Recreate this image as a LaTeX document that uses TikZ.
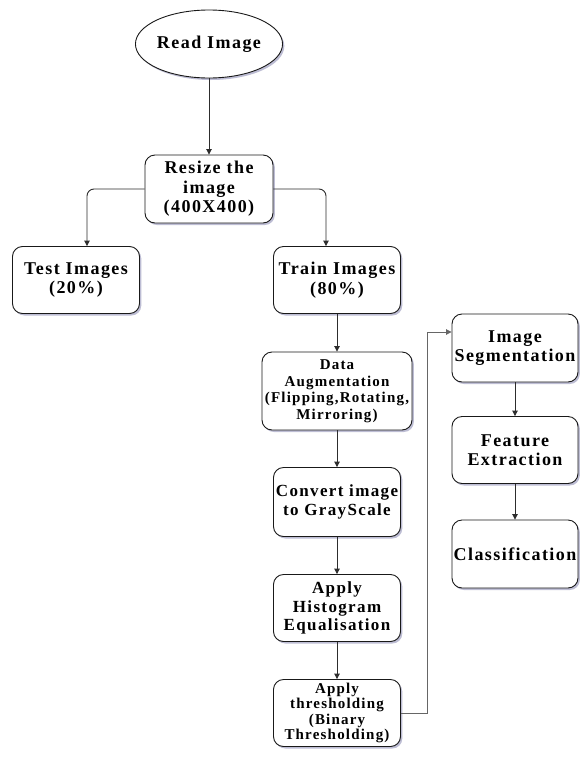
\documentclass[tikz,border=0pt]{standalone}
\usepackage{fontspec}
\setmainfont{Liberation Serif}[LetterSpace=8]
\usetikzlibrary{shapes.geometric,arrows.meta,shadows}
\definecolor{shcol}{RGB}{110,110,160}
\definecolor{linecol}{RGB}{45,45,45}
\tikzset{
  base/.style={draw=black!90, line width=0.9pt, fill=white, align=center, inner sep=0pt,
    font=\bfseries\fontsize{18}{19.5}\selectfont,
    drop shadow={shadow xshift=1.8pt, shadow yshift=-2pt, fill=shcol, opacity=0.45}},
  stepbox/.style={base, rectangle, rounded corners=10pt, minimum width=127pt, minimum height=67pt},
  ovalbox/.style={base, ellipse, minimum width=128pt, minimum height=68pt},
  arr/.style={draw=linecol, line width=0.9pt, -{Triangle[length=5.5pt,width=5.5pt]}},
  smallfont/.style={font=\bfseries\fontsize{15}{16.5}\selectfont}
}
\begin{document}
\begin{tikzpicture}[x=1pt,y=-1pt]
\fill[white] (0,0) rectangle (579,758);
\useasboundingbox (0,0) rectangle (579,758);

\node[ovalbox] (read) at (209,44) {Read Image};
\node[stepbox, minimum width=128pt, minimum height=68pt] (rs) at (209,189) {Resize the\\image\\(400X400)};
\node[stepbox] (test) at (76,280) {Test Images\\(20\%)};
\node[stepbox] (train) at (337,280) {Train Images\\(80\%)};
\node[stepbox, smallfont, minimum width=150pt, minimum height=78pt] (aug) at (337,391) {Data\\Augmentation\\(Flipping,Rotating,\\Mirroring)};
\node[stepbox, font=\bfseries\fontsize{17}{18.3}\selectfont, minimum height=69pt] (conv) at (337,502) {Convert image\\to GrayScale};
\node[stepbox, font=\bfseries\fontsize{17}{18.3}\selectfont] (hist) at (337,608) {Apply\\Histogram\\Equalisation};
\node[stepbox, font=\bfseries\fontsize{15}{15.6}\selectfont] (thr) at (337,713) {Apply\\thresholding\\(Binary\\Thresholding)};
\node[stepbox, minimum width=126pt, minimum height=68pt] (seg) at (515,348) {Image\\Segmentation};
\node[stepbox, minimum width=126pt] (feat) at (515,450) {Feature\\Extraction};
\node[stepbox, minimum width=126pt, minimum height=68pt] (cls) at (515,554) {Classification};

\draw[arr] (read) -- (rs);
\draw[arr, rounded corners=7pt] (rs.west) -| ([xshift=11pt]test.north);
\draw[arr, rounded corners=7pt] (rs.east) -| ([xshift=-11pt]train.north);
\draw[arr] (train) -- (aug);
\draw[arr] (aug) -- (conv);
\draw[arr] (conv) -- (hist);
\draw[arr] (hist) -- (thr);
\coordinate (bend) at (427,713);
\draw[arr, draw=black!60] (thr.east) -- (bend) |- ([yshift=16pt]seg.west);
\draw[arr] (seg) -- (feat);
\draw[arr] (feat) -- (cls);
\end{tikzpicture}
\end{document}
